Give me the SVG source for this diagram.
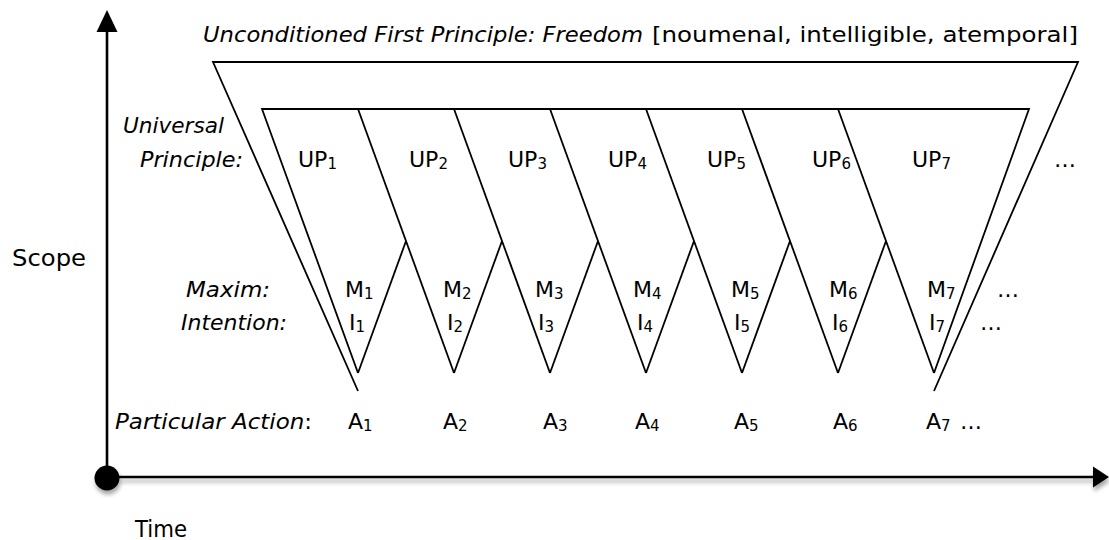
<svg xmlns="http://www.w3.org/2000/svg" width="1109" height="540" viewBox="0 0 1109 540">
<style>
  text { font-family: "DejaVu Sans", "Liberation Sans", sans-serif; fill: #000; }
  .hd { font-size: 21px; }
  .lbl { font-size: 21px; font-style: italic; }
  .v { font-size: 22px; }
  .sub { font-size: 15px; }
  .ax { font-size: 23px; }
  .ln { fill: none; stroke: #000; stroke-width: 1.8; stroke-linejoin: miter; }
  .axis { fill: none; stroke: #000; stroke-width: 2.6; }
</style>
<defs>
  <filter id="shadow" x="-5%" y="-50%" width="110%" height="250%">
    <feGaussianBlur in="SourceAlpha" stdDeviation="2.2"/>
    <feOffset dx="1" dy="4" result="b"/>
    <feComponentTransfer><feFuncA type="linear" slope="0.35"/></feComponentTransfer>
    <feMerge><feMergeNode/><feMergeNode in="SourceGraphic"/></feMerge>
  </filter>
</defs>
<rect width="1109" height="540" fill="#fff"/>

<g id="axes">
  <g id="time-axis" filter="url(#shadow)">
    <line class="axis" x1="107" y1="477" x2="1095" y2="477"/>
    <polygon points="1093,466.5 1109,477 1093,487.5" fill="#000"/>
    <circle cx="107" cy="478" r="12.5" fill="#000"/>
  </g>
  <g id="scope-axis">
    <line class="axis" x1="107" y1="478" x2="107" y2="30"/>
    <polygon points="96.5,32 107,10 117.5,32" fill="#000"/>
  </g>
  <text class="ax" x="12" y="266" textLength="74" lengthAdjust="spacingAndGlyphs">Scope</text>
  <text class="ax" x="135" y="537" textLength="52" lengthAdjust="spacingAndGlyphs">Time</text>
</g>

<g id="first-principle">
  <polyline class="ln" points="358,391 213,62 1078,62 934,391"/>
  <text class="hd" x="203" y="42" font-style="italic" textLength="440" lengthAdjust="spacingAndGlyphs">Unconditioned First Principle: Freedom</text>
  <text class="hd" x="652" y="42" textLength="426" lengthAdjust="spacingAndGlyphs">[noumenal, intelligible, atemporal]</text>
</g>

<g id="connectors">
  <polyline class="ln" points="358,373 262,109 1029,109 934,373"/>
  <line class="ln" x1="358" y1="109" x2="454" y2="373"/>
  <line class="ln" x1="454" y1="109" x2="550" y2="373"/>
  <line class="ln" x1="550" y1="109" x2="646" y2="373"/>
  <line class="ln" x1="646" y1="109" x2="742" y2="373"/>
  <line class="ln" x1="742" y1="109" x2="838" y2="373"/>
  <line class="ln" x1="838" y1="109" x2="934" y2="373"/>
  <line class="ln" x1="358" y1="373" x2="406" y2="241"/>
  <line class="ln" x1="454" y1="373" x2="502" y2="241"/>
  <line class="ln" x1="550" y1="373" x2="598" y2="241"/>
  <line class="ln" x1="646" y1="373" x2="694" y2="241"/>
  <line class="ln" x1="742" y1="373" x2="790" y2="241"/>
  <line class="ln" x1="838" y1="373" x2="886" y2="241"/>
</g>

<g id="row-labels">
  <text class="lbl" x="123" y="133" textLength="101" lengthAdjust="spacingAndGlyphs">Universal</text>
  <text class="lbl" x="140" y="167" textLength="103" lengthAdjust="spacingAndGlyphs">Principle:</text>
  <text class="lbl" x="186" y="297" textLength="84" lengthAdjust="spacingAndGlyphs">Maxim:</text>
  <text class="lbl" x="181" y="330" textLength="106" lengthAdjust="spacingAndGlyphs">Intention:</text>
  <text class="lbl" x="115" y="429" textLength="197" lengthAdjust="spacingAndGlyphs">Particular Action<tspan font-style="normal">:</tspan></text>
</g>

<g id="universal-principles">
  <g id="up1"><text class="v" x="298" y="167">UP<tspan class="sub" dy="2">1</tspan></text></g>
  <g id="up2"><text class="v" x="409" y="167">UP<tspan class="sub" dy="2">2</tspan></text></g>
  <g id="up3"><text class="v" x="508" y="167">UP<tspan class="sub" dy="2">3</tspan></text></g>
  <g id="up4"><text class="v" x="608" y="167">UP<tspan class="sub" dy="2">4</tspan></text></g>
  <g id="up5"><text class="v" x="707" y="167">UP<tspan class="sub" dy="2">5</tspan></text></g>
  <g id="up6"><text class="v" x="812" y="167">UP<tspan class="sub" dy="2">6</tspan></text></g>
  <g id="up7"><text class="v" x="912" y="167">UP<tspan class="sub" dy="2">7</tspan></text></g>
  <text class="v" x="1054" y="167">…</text>
</g>

<g id="maxims">
  <g id="m1"><text class="v" x="345" y="297">M<tspan class="sub" dy="2">1</tspan></text></g>
  <g id="m2"><text class="v" x="443" y="297">M<tspan class="sub" dy="2">2</tspan></text></g>
  <g id="m3"><text class="v" x="535" y="297">M<tspan class="sub" dy="2">3</tspan></text></g>
  <g id="m4"><text class="v" x="633" y="297">M<tspan class="sub" dy="2">4</tspan></text></g>
  <g id="m5"><text class="v" x="731" y="297">M<tspan class="sub" dy="2">5</tspan></text></g>
  <g id="m6"><text class="v" x="829" y="297">M<tspan class="sub" dy="2">6</tspan></text></g>
  <g id="m7"><text class="v" x="927" y="297">M<tspan class="sub" dy="2">7</tspan></text></g>
  <text class="v" x="997" y="297">…</text>
</g>

<g id="intentions">
  <g id="i1"><text class="v" x="349" y="330">I<tspan class="sub" dy="2">1</tspan></text></g>
  <g id="i2"><text class="v" x="447" y="330">I<tspan class="sub" dy="2">2</tspan></text></g>
  <g id="i3"><text class="v" x="538" y="330">I<tspan class="sub" dy="2">3</tspan></text></g>
  <g id="i4"><text class="v" x="637" y="330">I<tspan class="sub" dy="2">4</tspan></text></g>
  <g id="i5"><text class="v" x="734" y="330">I<tspan class="sub" dy="2">5</tspan></text></g>
  <g id="i6"><text class="v" x="832" y="330">I<tspan class="sub" dy="2">6</tspan></text></g>
  <g id="i7"><text class="v" x="929" y="330">I<tspan class="sub" dy="2">7</tspan></text></g>
  <text class="v" x="980" y="330">…</text>
</g>

<g id="actions">
  <g id="a1"><text class="v" x="348" y="429">A<tspan class="sub" dy="2">1</tspan></text></g>
  <g id="a2"><text class="v" x="443" y="429">A<tspan class="sub" dy="2">2</tspan></text></g>
  <g id="a3"><text class="v" x="543" y="429">A<tspan class="sub" dy="2">3</tspan></text></g>
  <g id="a4"><text class="v" x="635" y="429">A<tspan class="sub" dy="2">4</tspan></text></g>
  <g id="a5"><text class="v" x="734" y="429">A<tspan class="sub" dy="2">5</tspan></text></g>
  <g id="a6"><text class="v" x="833" y="429">A<tspan class="sub" dy="2">6</tspan></text></g>
  <g id="a7"><text class="v" x="926" y="429">A<tspan class="sub" dy="2">7</tspan></text></g>
  <text class="v" x="960" y="429">…</text>
</g>
</svg>
